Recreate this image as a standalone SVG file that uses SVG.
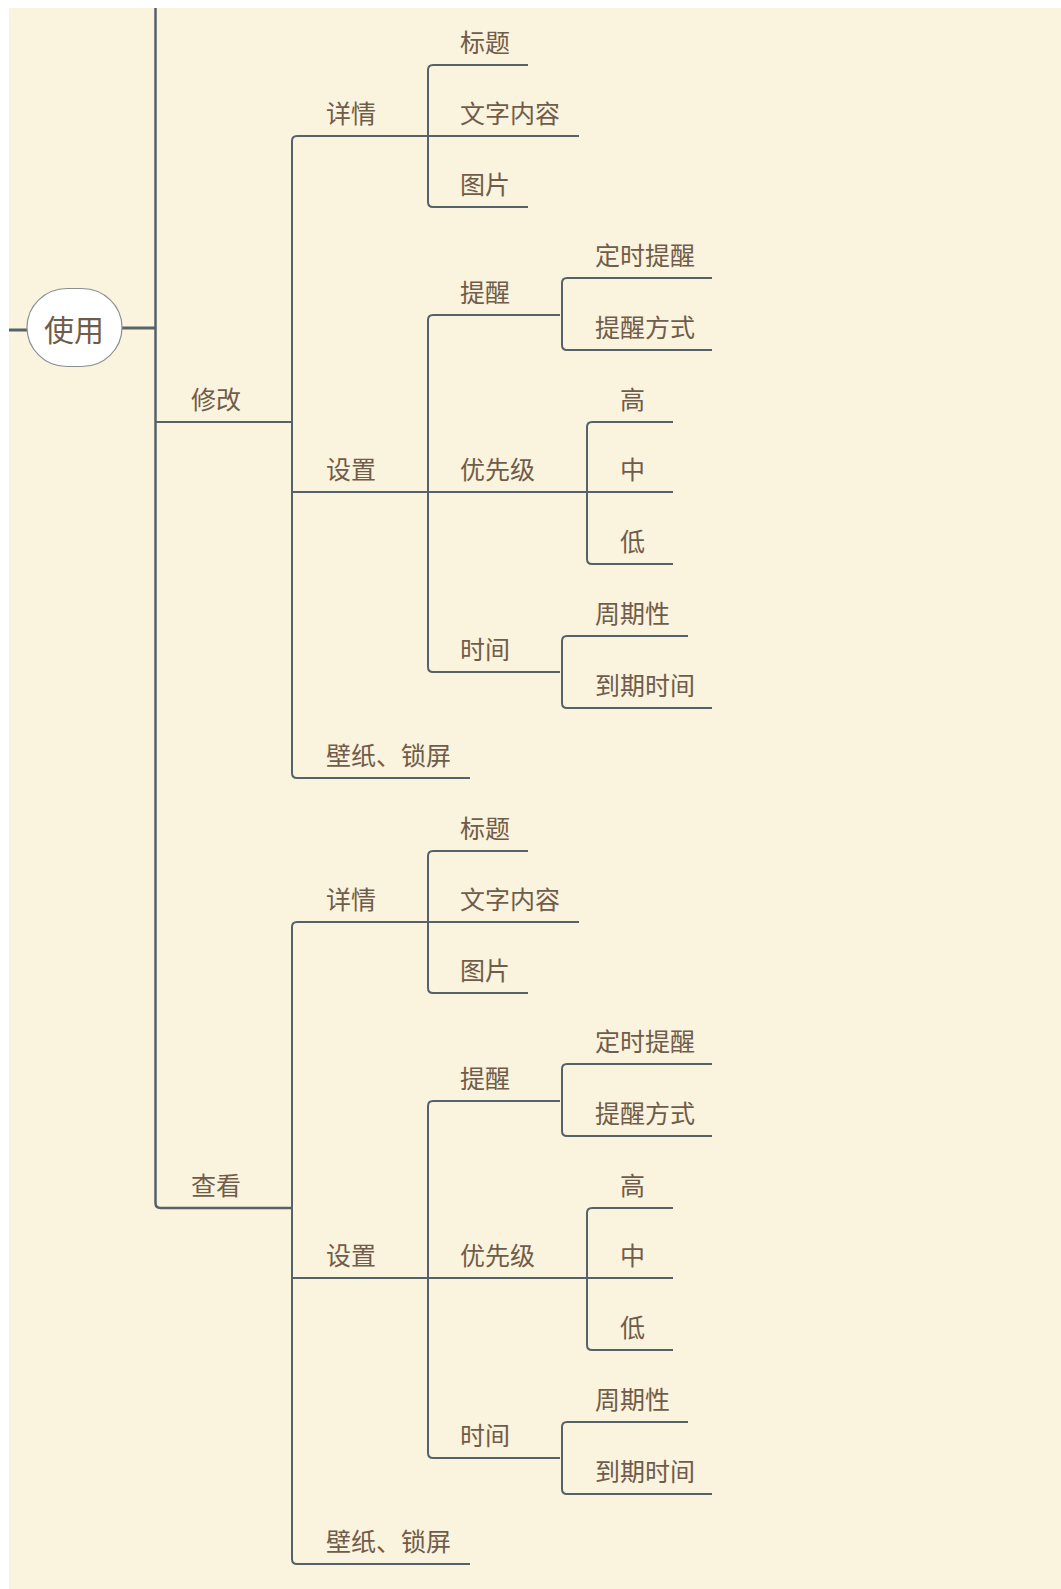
<svg xmlns="http://www.w3.org/2000/svg" width="1061" height="1589" viewBox="0 0 1061 1589">
<style>
.bg{fill:#faf3dd}
.ln{fill:none;stroke:#56626a;stroke-width:2;stroke-linecap:butt}
.thick{fill:none;stroke:#56626a;stroke-width:3}
.t{font-family:"Noto Sans CJK SC","Noto Sans",sans-serif;font-size:25px;fill:#705c4a}
.root{font-family:"Noto Sans CJK SC","Noto Sans",sans-serif;font-size:30px;fill:#705c4a;text-anchor:middle}
.node{fill:#ffffff;stroke:#8a8f92;stroke-width:1.2}
</style>
<rect x="0" y="0" width="1061" height="1589" fill="#ffffff"/>
<rect class="bg" x="9" y="8" width="1052" height="1581"/>
<g id="connectors">
<path class="thick" d="M9,330 H27"/>
<path class="thick" d="M122,328 H155.5"/>
<path class="ln" style="stroke-width:2.5" d="M155.5,8 V1203 Q155.5,1208 160.5,1208 H292"/>
<path class="ln" d="M155.5,422 H292"/>
<g id="half-top">
<path class="ln" d="M292,141 Q292,136 297,136 H579"/>
<path class="ln" d="M292,141 V773 Q292,778 297,778 H470"/>
<path class="ln" d="M292,492 H673"/>
<path class="ln" d="M428,70 Q428,65 433,65 H528"/>
<path class="ln" d="M428,70 V202 Q428,207 433,207 H528"/>
<path class="ln" d="M428,320 Q428,315 433,315 H560"/>
<path class="ln" d="M428,320 V667 Q428,672 433,672 H560"/>
<path class="ln" d="M562,283 Q562,278 567,278 H712"/>
<path class="ln" d="M562,283 V345 Q562,350 567,350 H712"/>
<path class="ln" d="M587,427 Q587,422 592,422 H673"/>
<path class="ln" d="M587,427 V559 Q587,564 592,564 H673"/>
<path class="ln" d="M562,641 Q562,636 567,636 H688"/>
<path class="ln" d="M562,641 V703 Q562,708 567,708 H712"/>
</g>
<g id="half-bottom" transform="translate(0,786)">
<path class="ln" d="M292,141 Q292,136 297,136 H579"/>
<path class="ln" d="M292,141 V773 Q292,778 297,778 H470"/>
<path class="ln" d="M292,492 H673"/>
<path class="ln" d="M428,70 Q428,65 433,65 H528"/>
<path class="ln" d="M428,70 V202 Q428,207 433,207 H528"/>
<path class="ln" d="M428,320 Q428,315 433,315 H560"/>
<path class="ln" d="M428,320 V667 Q428,672 433,672 H560"/>
<path class="ln" d="M562,283 Q562,278 567,278 H712"/>
<path class="ln" d="M562,283 V345 Q562,350 567,350 H712"/>
<path class="ln" d="M587,427 Q587,422 592,422 H673"/>
<path class="ln" d="M587,427 V559 Q587,564 592,564 H673"/>
<path class="ln" d="M562,641 Q562,636 567,636 H688"/>
<path class="ln" d="M562,641 V703 Q562,708 567,708 H712"/>
</g>
</g>
<g id="node-shiyong">
<rect class="node" x="27" y="288.5" width="95" height="78" rx="40" ry="39"/>
<text class="root" x="74" y="341">使用</text>
</g>
<g id="node-xiugai"><text class="t" x="191" y="409">修改</text></g>
<g id="node-chakan"><text class="t" x="191" y="1195">查看</text></g>
<g id="sub-xiugai">
<g id="n1-xiangqing"><text class="t" x="326" y="123">详情</text></g>
<g id="n1-biaoti"><text class="t" x="460" y="52">标题</text></g>
<g id="n1-wenzi"><text class="t" x="460" y="123">文字内容</text></g>
<g id="n1-tupian"><text class="t" x="460" y="194">图片</text></g>
<g id="n1-shezhi"><text class="t" x="326" y="479">设置</text></g>
<g id="n1-tixing"><text class="t" x="460" y="302">提醒</text></g>
<g id="n1-dingshi"><text class="t" x="595" y="265">定时提醒</text></g>
<g id="n1-fangshi"><text class="t" x="595" y="337">提醒方式</text></g>
<g id="n1-youxian"><text class="t" x="460" y="479">优先级</text></g>
<g id="n1-gao"><text class="t" x="620" y="409">高</text></g>
<g id="n1-zhong"><text class="t" x="620" y="479">中</text></g>
<g id="n1-di"><text class="t" x="620" y="551">低</text></g>
<g id="n1-shijian"><text class="t" x="460" y="659">时间</text></g>
<g id="n1-zhouqi"><text class="t" x="595" y="623">周期性</text></g>
<g id="n1-daoqi"><text class="t" x="595" y="695">到期时间</text></g>
<g id="n1-bizhi"><text class="t" x="326" y="765">壁纸、锁屏</text></g>
</g>
<g id="sub-chakan" transform="translate(0,786)">
<g id="n2-xiangqing"><text class="t" x="326" y="123">详情</text></g>
<g id="n2-biaoti"><text class="t" x="460" y="52">标题</text></g>
<g id="n2-wenzi"><text class="t" x="460" y="123">文字内容</text></g>
<g id="n2-tupian"><text class="t" x="460" y="194">图片</text></g>
<g id="n2-shezhi"><text class="t" x="326" y="479">设置</text></g>
<g id="n2-tixing"><text class="t" x="460" y="302">提醒</text></g>
<g id="n2-dingshi"><text class="t" x="595" y="265">定时提醒</text></g>
<g id="n2-fangshi"><text class="t" x="595" y="337">提醒方式</text></g>
<g id="n2-youxian"><text class="t" x="460" y="479">优先级</text></g>
<g id="n2-gao"><text class="t" x="620" y="409">高</text></g>
<g id="n2-zhong"><text class="t" x="620" y="479">中</text></g>
<g id="n2-di"><text class="t" x="620" y="551">低</text></g>
<g id="n2-shijian"><text class="t" x="460" y="659">时间</text></g>
<g id="n2-zhouqi"><text class="t" x="595" y="623">周期性</text></g>
<g id="n2-daoqi"><text class="t" x="595" y="695">到期时间</text></g>
<g id="n2-bizhi"><text class="t" x="326" y="765">壁纸、锁屏</text></g>
</g>
</svg>
